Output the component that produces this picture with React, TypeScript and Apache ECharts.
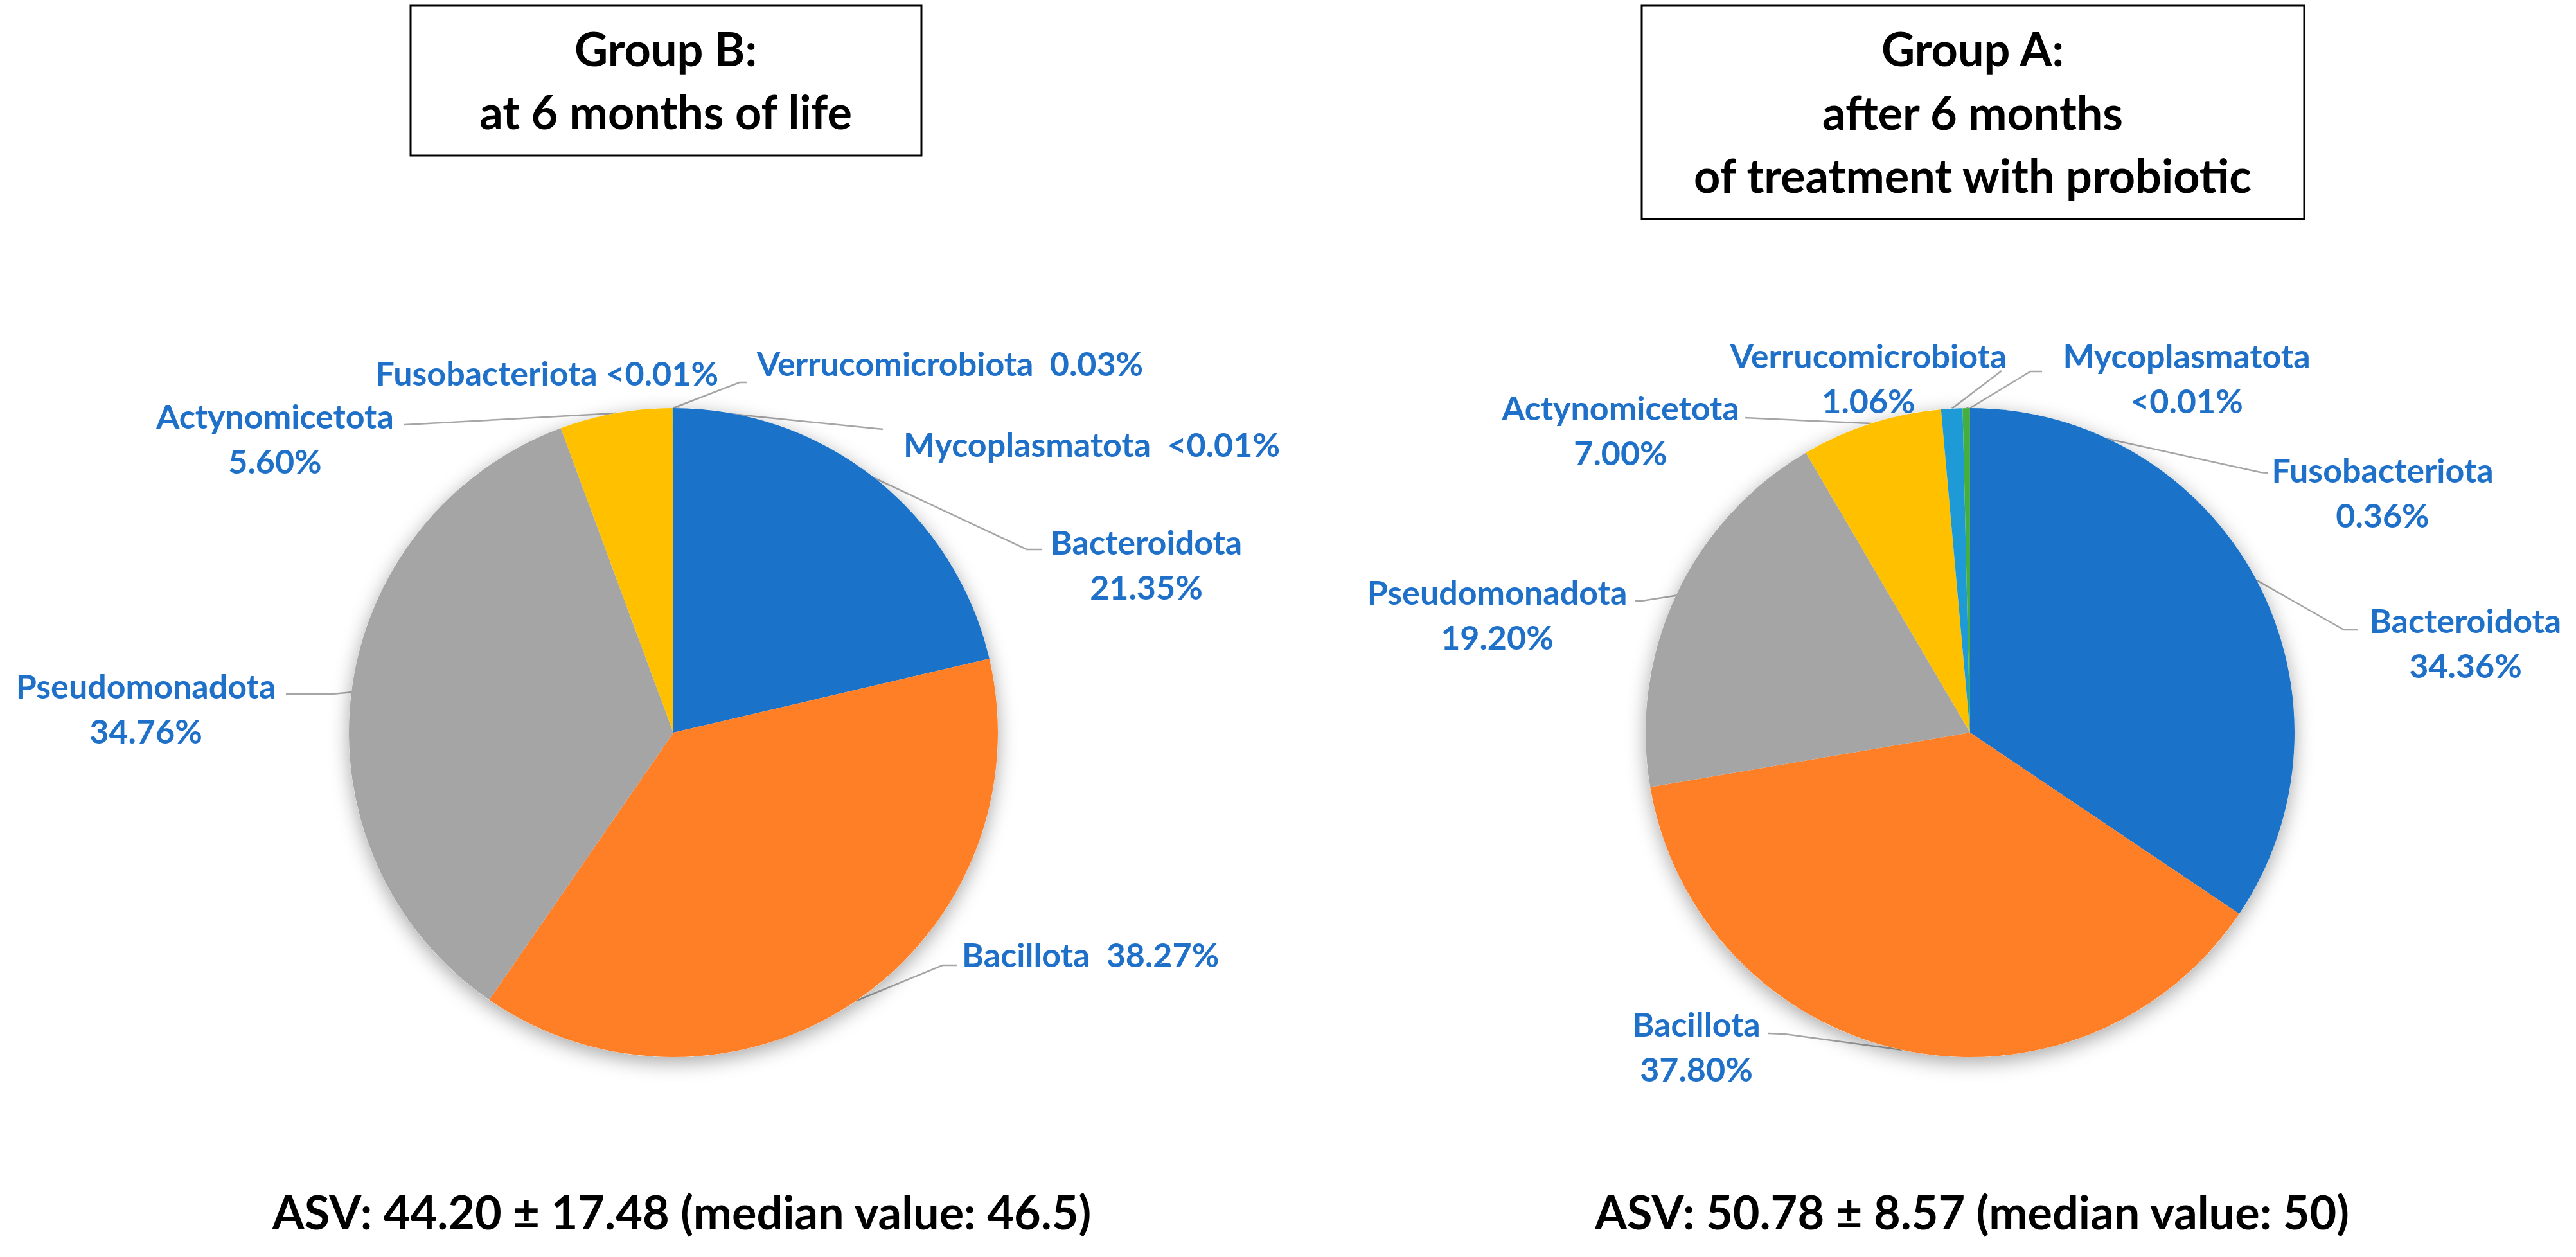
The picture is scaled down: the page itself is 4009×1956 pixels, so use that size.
import React, { useEffect, useRef } from 'react';
import * as echarts from 'echarts';

// ---------- DATA ----------
const phylaB = ['Bacteroidota', 'Bacillota', 'Pseudomonadota', 'Actynomicetota', 'Fusobacteriota', 'Verrucomicrobiota', 'Mycoplasmatota'];
const valuesB = [21.35, 38.27, 34.76, 5.6, 0.005, 0.03, 0.005];
const pctB = ['21.35%', '38.27%', '34.76%', '5.60%', '<0.01%', '0.03%', '<0.01%'];

const phylaA = ['Bacteroidota', 'Bacillota', 'Pseudomonadota', 'Actynomicetota', 'Verrucomicrobiota', 'Fusobacteriota', 'Mycoplasmatota'];
const valuesA = [34.36, 37.8, 19.2, 7.0, 1.06, 0.36, 0.005];
const pctA = ['34.36%', '37.80%', '19.20%', '7.00%', '1.06%', '0.36%', '<0.01%'];

const titleB = ['Group B:', 'at 6 months of life'];
const titleA = ['Group A:', 'after 6 months', 'of treatment with probiotic'];
const asvB = 'ASV: 44.20 ± 17.48 (median value: 46.5)';
const asvA = 'ASV: 50.78 ± 8.57 (median value: 50)';

// ---------- STYLE / LAYOUT ----------
const W = 4009;
const H = 1956;
const FONT = 'Lato, "Open Sans", sans-serif';
const LABEL_COLOR = '#1F70C8';
const LINE_COLOR = '#A6A6A6';
const R = 505;
const centerB = [1048, 1140];
const centerA = [3066, 1140];

const phylumColor: Record<string, string> = {
  Bacteroidota: '#1A73C8',
  Bacillota: '#FF7F27',
  Pseudomonadota: '#A5A5A5',
  Actynomicetota: '#FFC000',
  Verrucomicrobiota: '#1E9BD7',
  Fusobacteriota: '#44AF3C',
  Mycoplasmatota: '#264478',
};

type LabelCfg = { x: number; y: number; align: string; sep: string; line: number[][] | null };

const layoutB: LabelCfg[] = [
  { x: 1784, y: 878, align: 'center', sep: '\n', line: [[1598, 855], [1622, 855]] },
  { x: 1497, y: 1485, align: 'left', sep: '  ', line: [[1467, 1502], [1490, 1502]] },
  { x: 227, y: 1102, align: 'center', sep: '\n', line: [[517, 1080], [445, 1080]] },
  { x: 428, y: 682, align: 'center', sep: '\n', line: [[629, 661]] },
  { x: 1118, y: 580, align: 'right', sep: ' ', line: null },
  { x: 1178, y: 565, align: 'left', sep: '  ', line: [[1151, 595], [1162, 595]] },
  { x: 1406, y: 691, align: 'left', sep: '  ', line: [[1374, 668]] },
];

const layoutA: LabelCfg[] = [
  { x: 3837, y: 1000, align: 'center', sep: '\n', line: [[3648, 980], [3670, 980]] },
  { x: 2640, y: 1628, align: 'center', sep: '\n', line: [[2777, 1609], [2752, 1608]] },
  { x: 2330, y: 956, align: 'center', sep: '\n', line: [[2555, 935], [2545, 935]] },
  { x: 2522, y: 669, align: 'center', sep: '\n', line: [[2715, 650]] },
  { x: 2908, y: 588, align: 'center', sep: '\n', line: [[3115, 577]] },
  { x: 3708, y: 766, align: 'center', sep: '\n', line: [[3518, 735], [3530, 736]] },
  { x: 3403, y: 588, align: 'center', sep: '\n', line: [[3160, 578], [3178, 578]] },
];

function makeBackground(center: number[], values: number[]) {
  const total = values.reduce((a, b) => a + b, 0);
  return {
    type: 'pie',
    center,
    radius: R,
    silent: true,
    animation: false,
    label: { show: false },
    labelLine: { show: false },
    emphasis: { disabled: true },
    itemStyle: {
      color: '#ffffff',
      shadowBlur: 30,
      shadowOffsetY: 8,
      shadowColor: 'rgba(0,0,0,0.35)',
    },
    data: [{ value: total, name: '' }],
  };
}

function makePie(center: number[], names: string[], values: number[], pcts: string[], layout: LabelCfg[]) {
  return {
    type: 'pie',
    center,
    radius: R,
    startAngle: 90,
    clockwise: true,
    avoidLabelOverlap: false,
    animation: false,
    emphasis: { disabled: true },
    itemStyle: { borderWidth: 0 },
    label: {
      show: true,
      position: 'outside',
      color: LABEL_COLOR,
      fontSize: 52,
      fontWeight: 'bold',
      fontFamily: FONT,
      lineHeight: 70,
    },
    labelLine: {
      show: true,
      length: 20,
      length2: 20,
      lineStyle: { color: LINE_COLOR, width: 2.5 },
    },
    data: names.map((n, i) => ({
      name: n,
      value: values[i],
      itemStyle: { color: phylumColor[n] },
      label: { formatter: n + layout[i].sep + pcts[i], align: layout[i].align },
      labelLine: { show: layout[i].line !== null },
    })),
    labelLayout: (p: any) => {
      const cfg = layout[p.dataIndex];
      const out: any = { x: cfg.x, y: cfg.y, align: cfg.align, verticalAlign: 'middle' };
      if (cfg.line && p.labelLinePoints && p.labelLinePoints.length) {
        out.labelLinePoints = [p.labelLinePoints[0], ...cfg.line];
      }
      return out;
    },
  };
}

function textEl(text: string, x: number, y: number, size: number) {
  return {
    type: 'text',
    silent: true,
    style: {
      text,
      x,
      y,
      fill: '#000000',
      font: `bold ${size}px ${FONT}`,
      textAlign: 'center',
      textVerticalAlign: 'middle',
      align: 'center',
      verticalAlign: 'middle',
    },
  };
}

export default function App() {
  const ref = useRef<HTMLDivElement>(null);

  useEffect(() => {
    document.body.style.margin = '0';
    if (!ref.current) return;
    const chart = echarts.init(ref.current, undefined, { renderer: 'svg' });

    const graphics: any[] = [
      {
        type: 'rect',
        silent: true,
        shape: { x: 639, y: 9, width: 795, height: 233 },
        style: { fill: '#ffffff', stroke: '#000000', lineWidth: 3 },
      },
      {
        type: 'rect',
        silent: true,
        shape: { x: 2555, y: 9, width: 1031, height: 332 },
        style: { fill: '#ffffff', stroke: '#000000', lineWidth: 3 },
      },
      ...titleB.map((t, i) => textEl(t, 1036, 75 + i * 98, 72)),
      ...titleA.map((t, i) => textEl(t, 3070, 75 + i * 98.5, 72)),
      textEl(asvB, 1061, 1885, 72),
      textEl(asvA, 3069, 1885, 72),
    ];

    chart.setOption({
      animation: false,
      backgroundColor: '#ffffff',
      graphic: graphics,
      series: [
        makeBackground(centerB, valuesB),
        makeBackground(centerA, valuesA),
        makePie(centerB, phylaB, valuesB, pctB, layoutB),
        makePie(centerA, phylaA, valuesA, pctA, layoutA),
      ],
    });

    return () => chart.dispose();
  }, []);

  return <div ref={ref} style={{ position: 'absolute', left: 0, top: 0, width: W, height: H }} />;
}
